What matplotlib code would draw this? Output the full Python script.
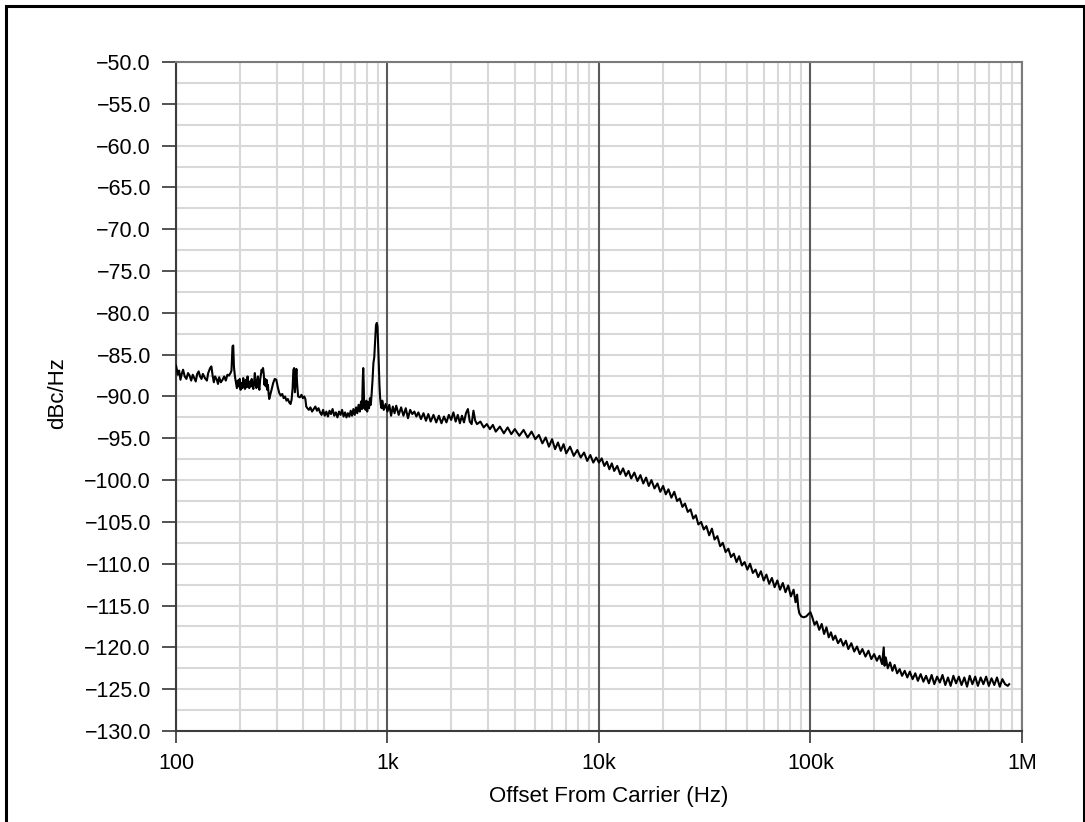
"""
Phase noise plot: single-sideband noise vs. offset from carrier.
"""
import matplotlib

matplotlib.use("Agg")
import matplotlib.pyplot as plt
from matplotlib.patches import Rectangle
from matplotlib.ticker import FixedLocator, FuncFormatter, LogLocator, MultipleLocator

# trace, offset (Hz) -> dBc/Hz
offset_hz = [
    100, 101, 102, 103.5, 105, 106.5, 108, 110, 112, 114, 116, 118, 120, 122, 124, 126,
    128, 130, 132, 134, 137, 140, 142, 145, 147, 149, 151, 153, 156, 158, 160, 163,
    166, 169, 172, 175, 178, 181, 183, 185, 186.5, 188, 190,
    192, 194, 196, 198, 200, 202, 204, 206, 208, 210, 212, 214, 216, 218, 220, 222,
    224, 226, 228, 230, 232, 234, 236, 238, 240, 242, 244, 246, 248, 250, 252, 254,
    256, 258, 260, 262, 264, 266, 268, 270, 272, 274, 276,
    279, 283, 288, 293, 298, 303, 308, 313, 318, 323, 328, 333, 338, 343, 348, 352,
    356, 359, 362, 365, 368, 371, 374, 378, 385, 392, 398, 404, 409, 413, 418,
    425, 432, 440, 448, 456, 464, 472, 480, 488, 496, 505, 514, 523, 532, 541, 550,
    560, 570, 580, 590, 600, 610, 620, 630, 640, 650, 660, 670, 680, 690, 700, 710,
    720, 730, 740, 750, 758, 764, 768, 772, 776, 782, 788, 795, 802, 810, 818, 826,
    834, 842, 850, 858, 866, 874, 882, 890, 897, 904, 910, 916, 922, 930, 938,
    945, 960, 980, 1000, 1020, 1040, 1060, 1080, 1100, 1130, 1160, 1190, 1220, 1250,
    1280, 1310, 1340, 1370, 1400, 1440, 1480, 1520, 1560, 1600, 1650, 1700, 1750,
    1800, 1850, 1900, 1950, 2000, 2050, 2100, 2150, 2200, 2250, 2300, 2350, 2400,
    2450, 2500, 2550, 2600, 2650, 2750, 2850, 2950, 3050, 3150, 3250, 3400, 3550,
    3700, 3850, 4000, 4200, 4400, 4600, 4800, 5000, 5200, 5400, 5600, 5800, 6000,
    6200, 6400, 6600, 6800, 7000, 7300, 7600, 7900, 8200, 8500, 8800, 9100, 9400,
    9700, 10000,
    10300, 10600, 10900, 11200, 11500, 11800, 12200, 12600, 13000, 13400, 13800,
    14200, 14700, 15200, 15700, 16200, 16700, 17200, 17700, 18300, 18900, 19500,
    20100, 20700, 21300, 22000, 22700, 23400, 24100, 24800, 25500, 26300, 27100,
    27900, 28700, 29500, 30400, 31300, 32200, 33200, 34200, 35200, 36300, 37400,
    38500, 39700, 40900, 42100, 43400, 44700, 46000, 47400, 48800, 50300, 51800,
    53400, 55000, 56600, 58300, 60100, 61900, 63800, 65700, 67700, 69700, 71800,
    74000, 76200, 78500, 80800, 83200, 85000, 86500, 87500, 88500, 90500, 93000,
    95500, 98000, 100000,
    102000, 104500, 107000, 110000, 113000, 116000, 119000, 122000, 125000, 128000,
    131000, 135000, 139000, 143000, 147000, 151000, 156000, 161000, 166000, 171000,
    176000, 182000, 188000, 194000, 200000, 206000, 212000, 218000, 222000, 224000,
    227000, 232000, 238000, 244000, 250000, 257000, 264000, 271000, 279000, 287000,
    295000, 304000, 313000, 322000, 332000, 342000, 352000, 363000, 374000, 385000,
    397000, 409000, 421000, 434000, 447000, 460000, 474000, 488000, 503000, 518000,
    534000, 550000, 566000, 583000, 601000, 619000, 638000, 657000, 677000, 697000,
    718000, 740000, 762000, 785000, 808000, 832000, 857000, 870000,
]
noise_dbc = [
    -86.3, -86.8, -87.4, -86.9, -88.0, -87.3, -86.8, -87.6, -87.9, -87.2, -87.5, -88.1,
    -87.4, -87.8, -88.2, -87.3, -87.0, -87.6, -87.9, -87.3, -87.8, -88.1, -87.2, -86.6,
    -86.4, -87.5, -88.3, -87.6, -88.0, -88.5, -87.7, -88.3, -88.0, -87.6, -88.1, -87.4,
    -87.5, -87.2, -86.9, -84.0, -83.9, -86.5, -87.6,
    -88.3, -89.0, -88.1, -88.8, -87.9, -89.2, -88.4, -89.0, -87.8, -88.6, -89.1, -88.0,
    -88.9, -87.6, -88.7, -89.0, -88.2, -88.8, -87.9, -88.5, -89.1, -88.3, -87.2, -88.6,
    -89.0, -88.1, -87.6, -88.8, -89.2, -88.0, -87.4, -86.8, -87.1, -86.6, -87.3, -88.6,
    -87.9, -88.8, -88.0, -89.2, -88.6, -89.6, -90.3,
    -89.8, -89.2, -88.4, -87.9, -88.0, -88.9, -89.6, -89.9, -89.7, -90.2, -90.0, -90.5,
    -90.3, -90.7, -90.9, -90.4, -89.0, -86.8, -86.6, -89.5, -88.0, -86.7, -88.5, -90.0,
    -90.1, -89.8, -90.2, -90.0, -90.3, -91.2, -91.4,
    -91.6, -91.3, -91.8, -91.5, -91.2, -91.7, -91.4, -91.9, -92.2, -91.6, -92.3, -91.8,
    -92.4, -91.7, -92.1, -91.5, -92.3, -91.9, -92.5, -91.8, -92.2, -91.6, -92.4, -91.9,
    -92.5, -92.0, -92.4, -91.7, -92.3, -91.5, -92.2, -91.3, -92.0, -91.0, -91.8, -90.6,
    -91.5, -88.0, -86.6, -88.5, -91.4, -90.8, -91.6, -90.5, -91.8, -90.7, -91.4, -90.2,
    -91.0, -89.6, -88.0, -86.0, -85.3, -83.5, -81.5, -81.2, -81.6, -84.0, -86.2, -88.5,
    -90.0, -91.0, -91.4,
    -90.5, -91.6, -90.9, -91.8, -91.0, -92.3, -91.2, -92.0, -91.1, -92.2, -91.3, -92.3,
    -91.4, -92.6, -91.6, -92.1, -91.8, -92.4, -91.9, -92.7, -92.0, -92.9, -92.1, -93.0,
    -92.2, -93.1, -92.3, -93.2, -92.4, -93.1, -92.2, -92.8, -91.9, -93.0, -92.2, -93.2,
    -92.3, -93.1, -92.0, -91.5, -93.0, -93.3, -91.7, -92.9, -93.3, -93.0, -93.7, -93.3,
    -93.9, -93.4, -94.2, -93.6, -94.4, -93.7, -94.5, -93.9, -94.7, -94.0, -94.9, -94.2,
    -95.1, -94.6, -95.6, -94.9, -96.0, -95.1, -96.3, -95.5, -96.5, -95.7, -96.8, -96.0,
    -97.1, -96.4, -97.3, -96.7, -97.7, -97.0, -97.9, -97.3, -97.9,
    -97.4, -98.3, -97.8, -98.7, -98.0, -98.9, -98.3, -99.3, -98.6, -99.5,
    -98.9, -99.8, -99.1, -100.1, -99.4, -100.4, -99.7, -100.7, -100.0, -101.0,
    -100.4, -101.4, -100.7, -101.7, -101.1, -102.1, -101.4, -102.5, -102.2, -103.2,
    -102.8, -103.8, -103.5, -104.6, -104.2, -105.3, -105.0, -105.9, -105.5, -106.6,
    -105.8, -107.1, -106.7, -107.9, -107.5, -108.6, -108.2, -109.2, -108.8, -109.8,
    -109.1, -110.2, -109.8, -110.7, -110.0, -111.1, -110.7, -111.6, -110.9, -112.0,
    -111.3, -112.4, -111.7, -112.8, -112.0, -113.1, -112.3, -113.4, -112.6, -113.9,
    -113.1, -114.6, -113.7, -115.2, -115.9, -116.3, -116.4, -116.3, -116.0, -115.8,
    -116.4, -117.3, -116.9, -117.9, -117.2, -118.4, -117.6, -118.8, -118.2, -119.1,
    -118.6, -119.5, -119.0, -119.8, -119.2, -120.2, -119.5, -120.5, -119.9, -120.8,
    -120.2, -121.1, -120.4, -121.4, -120.8, -121.6, -121.0, -122.0, -120.0, -122.2,
    -121.2, -122.5, -121.8, -122.8, -122.1, -123.1, -122.6, -123.4, -122.8, -123.6,
    -122.9, -123.8, -123.1, -124.0, -123.2, -124.1, -123.4, -124.3, -123.3, -124.4,
    -123.5, -124.2, -123.3, -124.5, -123.6, -124.6, -123.4, -124.3, -123.5, -124.5,
    -123.6, -124.7, -123.4, -124.4, -123.5, -124.6, -123.6, -124.4, -123.5, -124.6,
    -123.7, -124.5, -123.6, -124.7, -123.8, -124.4, -124.6, -124.4,
]

decade_ticks = [1e2, 1e3, 1e4, 1e5, 1e6]
decade_labels = ["100", "1k", "10k", "100k", "1M"]

FONT = ["Liberation Sans", "DejaVu Sans"]


def fmt_db(v, _pos):
    return f"{v:.1f}".replace("-", "\u2212")


def main() -> None:
    plt.rcParams["font.family"] = FONT

    fig = plt.figure(figsize=(10.85, 8.22), dpi=100)
    ax = fig.add_axes([0.1622, 0.1107, 0.7797, 0.8139])

    ax.plot(offset_hz, noise_dbc, color="black", linewidth=1.5, zorder=3)

    ax.set_xscale("log")
    ax.set_xlim(decade_ticks[0], decade_ticks[-1])
    ax.set_ylim(-130, -50)

    ax.xaxis.set_major_locator(FixedLocator(decade_ticks))
    ax.set_xticklabels(decade_labels)
    ax.xaxis.set_minor_locator(LogLocator(base=10, subs=range(2, 10)))
    ax.yaxis.set_major_locator(MultipleLocator(5))
    ax.yaxis.set_minor_locator(MultipleLocator(2.5))
    ax.yaxis.set_major_formatter(FuncFormatter(fmt_db))

    ax.set_axisbelow(True)
    ax.grid(which="major", axis="x", color="#5a5a5a", linewidth=1.5)
    ax.grid(which="minor", axis="x", color="#d8d8d8", linewidth=1.5)
    ax.grid(which="both", axis="y", color="#d8d8d8", linewidth=1.5)
    ax.yaxis.set_zorder(0.4)
    ax.xaxis.set_zorder(0.6)

    ax.tick_params(axis="both", which="major", labelsize=15.5, color="#444444",
                   width=1.3, direction="out")
    ax.tick_params(axis="y", which="major", length=10, pad=8)
    ax.tick_params(axis="x", which="major", length=8.5, pad=7)
    ax.tick_params(which="minor", length=0)

    for side in ("left", "bottom"):
        ax.spines[side].set_color("#3c3c3c")
        ax.spines[side].set_linewidth(1.5)
    for side in ("top", "right"):
        ax.spines[side].set_color("#7a7a7a")
        ax.spines[side].set_linewidth(1.5)

    ax.set_xlabel("Offset From Carrier (Hz)", fontsize=16)
    ax.set_ylabel("dBc/Hz", fontsize=16)
    ax.xaxis.set_label_coords(0.512, -0.082)
    ax.yaxis.set_label_coords(-0.128, 0.505)

    # black outer frame, cut off at the bottom like the original
    fig.add_artist(Rectangle((6 / 1085, -0.05), 1077.5 / 1085, 1.05 - 6 / 822,
                             transform=fig.transFigure, fill=False,
                             edgecolor="black", linewidth=2.2))

    fig.savefig("out.png", dpi=100, facecolor="white")
    plt.close(fig)


if __name__ == "__main__":
    main()
